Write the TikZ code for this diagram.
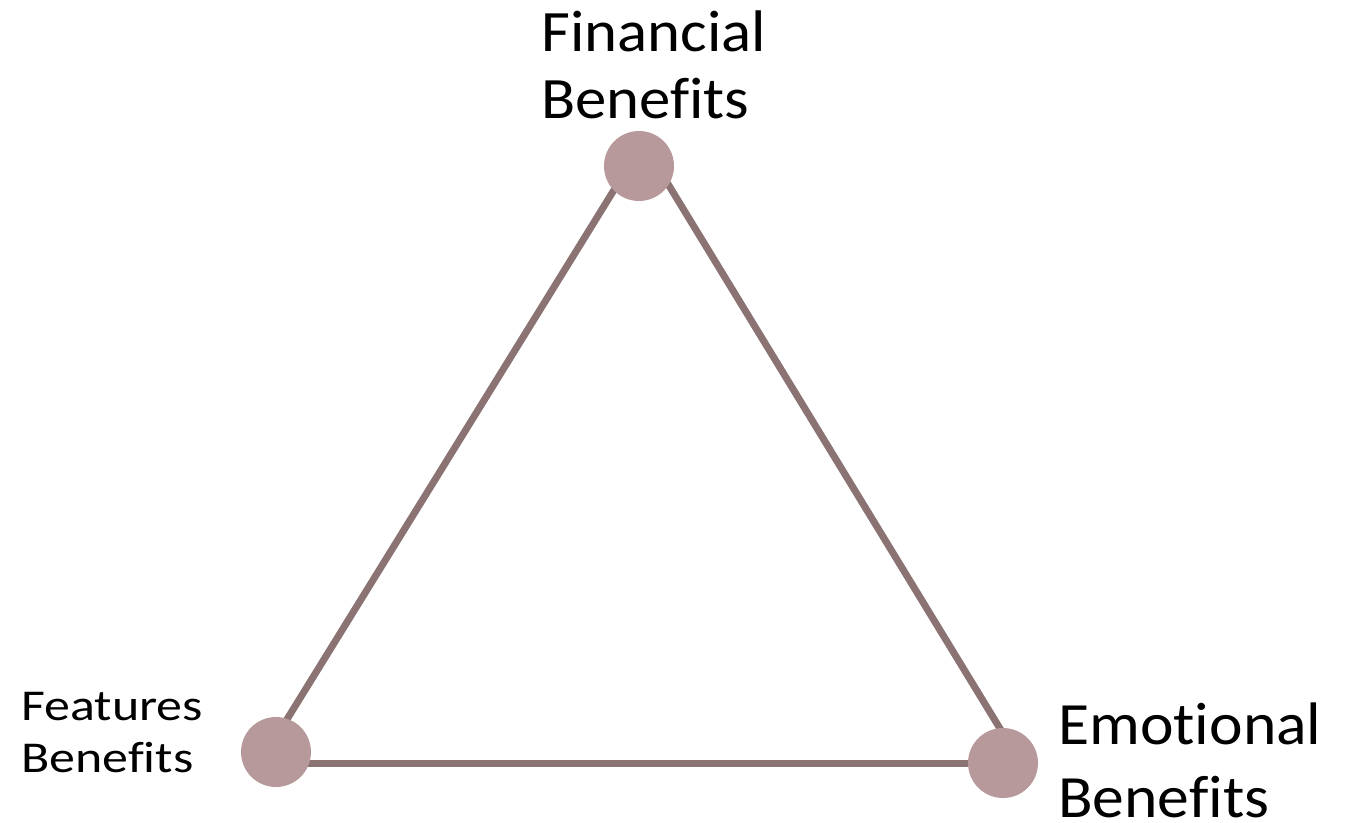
\documentclass[tikz,border=0pt]{standalone}
\usepackage{fontspec}
\setmainfont{Carlito}[Ligatures=NoCommon]
\definecolor{linecol}{HTML}{8B7374}
\definecolor{dotcol}{HTML}{B8999B}
\tikzset{
  edge/.style={draw=linecol, line width=5.25pt},
  dot/.style={circle, fill=dotcol, draw=none, minimum size=52.5pt, inner sep=0pt},
  lbl/.style={anchor=base west, align=left, inner sep=0pt, text=black}
}
\begin{document}
\begin{tikzpicture}[x=0.75pt,y=-0.75pt]
\useasboundingbox (0,0) rectangle (1351,822);
% triangle corners (hidden under the dots)
\coordinate (ta) at (643,143);
\coordinate (tb) at (260,763);
\coordinate (tc) at (1021,763);
\draw[edge] (ta) -- (tb);
\draw[edge] (tb) -- (tc);
\draw[edge] (tc) -- (ta);
\node[dot] (fin) at (639,166) {};
\node[dot] (fea) at (276,752) {};
\node[dot] (emo) at (1003,763) {};
\node[lbl, font=\fontsize{44pt}{50pt}\selectfont, xscale=1.07, transform shape] (finlbl) at (541,118.3) {Financial\\Benefits};
\node[lbl, font=\fontsize{33pt}{39.5pt}\selectfont, xscale=1.18, transform shape] (fealbl) at (21,772.7) {Features\\Benefits};
\node[lbl, font=\fontsize{45pt}{54.75pt}\selectfont, xscale=1.06, transform shape] (emolbl) at (1058,817) {Emotional\\Benefits};
\end{tikzpicture}
\end{document}
